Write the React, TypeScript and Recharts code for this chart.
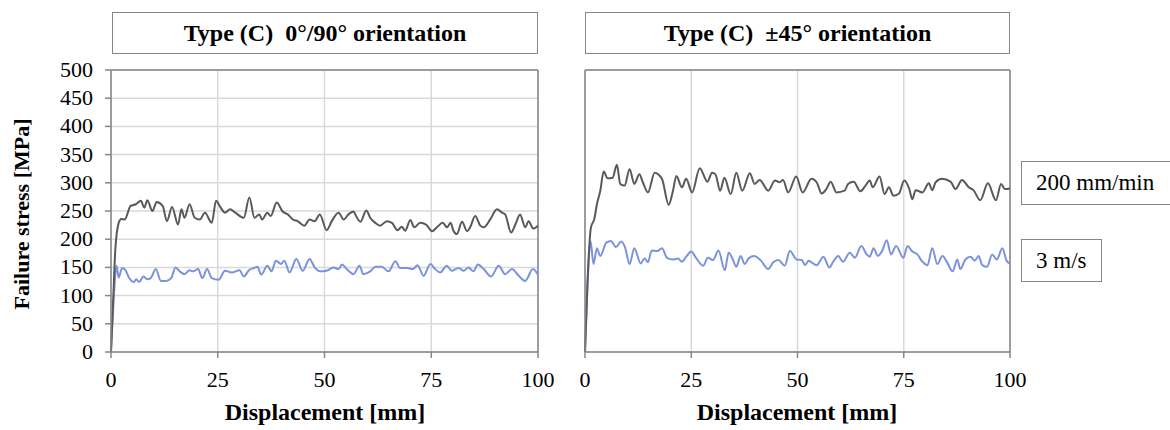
import React from "react";
import {
  LineChart,
  Line,
  XAxis,
  YAxis,
  CartesianGrid,
  ReferenceLine,
} from "recharts";

// displacement [mm] vs failure stress [MPa]
const xTicks = [0, 25, 50, 75, 100];
const yTicks = [0, 50, 100, 150, 200, 250, 300, 350, 400, 450, 500];

const titles = ["Type (C)  0°/90° orientation", "Type (C)  ±45° orientation"];
const seriesNames = ["200 mm/min", "3 m/s"];

const left200: [number, number][] = [
  [0, 0], [0.5, 90], [1, 180], [1.8, 229], [2.4, 236], [3.2, 235], [4.6, 259], [5.8, 262],
  [7, 268], [7.8, 256], [8.5, 269], [9.7, 250], [10.7, 266], [12.1, 259], [13.1, 232],
  [14.3, 257], [15.7, 226], [16.5, 253], [17.2, 238], [18.4, 262], [19.6, 238], [20.8, 235],
  [22, 247], [23.6, 229], [24.6, 268], [25.6, 257], [26.7, 247], [27.9, 253], [29.1, 247],
  [31.1, 238], [32.4, 274], [33.6, 238], [34.7, 244], [35.4, 235], [36.6, 247], [37.4, 241],
  [38.8, 265], [40.2, 249], [41.4, 244], [42.6, 235], [43.7, 232], [45.3, 224], [46.5, 235],
  [47.7, 232], [48.9, 244], [50.5, 216], [51.7, 232], [53.3, 247], [54.5, 235], [55.6, 244],
  [56.8, 249], [57.4, 241], [58.4, 231], [59.8, 251], [60.7, 238], [61.9, 229], [63, 224],
  [64.6, 232], [65.8, 229], [67.1, 216], [68.1, 222], [68.9, 215], [70.1, 234], [71, 221],
  [72.4, 229], [73.8, 226], [75.2, 214], [76.3, 221], [77.7, 229], [78.7, 221], [79.5, 229],
  [80.2, 215], [81, 209], [82.2, 231], [83.4, 214], [84.1, 221], [85.3, 241], [86.5, 224],
  [87.3, 221], [88.8, 235], [90.4, 253], [91.6, 247], [92.3, 244], [93.7, 212], [94.7, 226],
  [95.8, 244], [97, 221], [97.8, 232], [98.9, 219], [100, 224],
];

const left3: [number, number][] = [
  [0, 3], [0.6, 91], [1.3, 153], [1.8, 132], [2.6, 149], [3.4, 145], [4.2, 132], [5.4, 124],
  [5.9, 129], [6.6, 124], [7.6, 134], [8.5, 129], [9.3, 131], [10.5, 147], [11.7, 126],
  [12.9, 126], [14.1, 131], [15.1, 150], [16.1, 143], [17.2, 138], [18.4, 145], [19.2, 143],
  [20.4, 147], [21.4, 131], [22.5, 147], [23.6, 131], [25.2, 128], [26.7, 144], [28.3, 141],
  [30.1, 145], [31.1, 134], [32.3, 145], [33.5, 149], [34.3, 151], [35.2, 137], [36.6, 153],
  [37.6, 143], [38.6, 162], [39.8, 156], [40.6, 162], [41.8, 141], [43.4, 165], [44.9, 144],
  [46.5, 165], [47.7, 150], [49, 143], [50.5, 144], [52.1, 150], [53.3, 147], [54.1, 155],
  [55.2, 147], [56.8, 138], [58.2, 153], [59.1, 138], [60.7, 143], [61.9, 151], [63.4, 151],
  [65, 143], [66.6, 161], [67.7, 149], [69.3, 149], [70.7, 147], [71.8, 154], [73.2, 135],
  [74.8, 156], [75.9, 147], [77.1, 141], [78.6, 153], [79.8, 144], [81.4, 149], [82.6, 144],
  [83.7, 150], [84.9, 143], [85.9, 155], [87.3, 147], [89, 134], [90.8, 153], [92.3, 138],
  [93.9, 147], [95.5, 135], [97, 126], [98.8, 147], [100, 137],
];

const right200: [number, number][] = [
  [0, 0], [0.6, 126], [1.4, 221], [2.2, 236], [2.8, 262], [3.6, 286], [4.4, 320], [5.3, 308],
  [6.5, 309], [7.5, 332], [8.3, 298], [9.3, 295], [10.5, 324], [11.6, 298], [12.8, 315],
  [13.6, 301], [14.8, 283], [16.4, 318], [18.1, 307], [19.7, 261], [20.7, 286], [21.5, 312],
  [22.8, 292], [23.8, 307], [25.2, 283], [27, 326], [28.8, 302], [29.9, 318], [30.7, 315],
  [31.8, 286], [32.8, 309], [34.3, 280], [35.6, 318], [37, 286], [38.8, 317], [39.9, 298],
  [41.1, 305], [43.1, 286], [44.7, 304], [45.8, 301], [46.6, 305], [47.8, 283], [49.7, 311],
  [51.2, 283], [53.3, 307], [54.5, 301], [55.7, 281], [56.8, 289], [57.8, 302], [59.2, 283],
  [61.1, 286], [61.9, 298], [63.2, 302], [64.8, 285], [66, 295], [67, 304], [67.7, 292],
  [69.3, 311], [70.5, 280], [71.5, 292], [72.6, 277], [73.9, 281], [75.1, 304], [76.3, 289],
  [77, 271], [77.8, 287], [79.4, 283], [80.9, 299], [81.7, 287], [82.5, 301], [84, 307],
  [86, 302], [87.2, 289], [88.7, 305], [90.3, 292], [91.4, 287], [93, 269], [94.8, 299],
  [96.7, 269], [97.9, 298], [98.8, 289], [100, 290],
];

const right3: [number, number][] = [
  [0, 0], [0.6, 120], [1.3, 197], [2, 156], [2.8, 184], [3.6, 170], [5, 194], [6.1, 197],
  [7.3, 186], [8.5, 196], [9.4, 186], [10.5, 156], [11.6, 184], [13.1, 157], [14, 166],
  [14.8, 159], [15.7, 180], [17, 179], [18.1, 184], [19.3, 167], [20.7, 164], [21.9, 166],
  [22.8, 160], [23.8, 169], [25, 178], [26.2, 166], [27.8, 153], [28.9, 167], [30.1, 163],
  [31.4, 180], [32.9, 145], [33.8, 176], [34.8, 164], [35.6, 151], [36.6, 170], [37.6, 156],
  [38.5, 166], [39.8, 170], [41.4, 162], [43.1, 147], [44.3, 159], [45.5, 163], [47, 153],
  [48.2, 179], [49.8, 164], [51, 163], [51.8, 154], [52.6, 162], [53.3, 159], [54.5, 154],
  [56.1, 169], [57.5, 150], [58.4, 160], [59.6, 170], [60.7, 160], [62.3, 176], [63.5, 167],
  [65, 188], [66.3, 173], [67, 169], [67.9, 184], [68.9, 170], [69.9, 179], [71, 198],
  [72, 173], [73.2, 188], [74.9, 167], [75.9, 188], [76.9, 179], [78.2, 173], [79.4, 160],
  [80.6, 154], [81.7, 184], [82.9, 156], [84.1, 170], [85.2, 159], [86.5, 143], [87.6, 164],
  [88.3, 147], [89.5, 164], [90.7, 169], [91.7, 162], [92.6, 170], [93.5, 154], [94.6, 151],
  [95.8, 173], [96.9, 164], [98.2, 184], [99.2, 162], [100, 157],
];

const SERIF = "'Liberation Serif', 'Times New Roman', serif";
const AXIS = "#868686";
const GRID = "#d9d9d9";
const DARK = "#595959";
const BLUE = "#7b93dc";

const toPoints = (d: [number, number][]) => d.map(([x, y]) => ({ x, y }));

const XTick = (props: any) => {
  const { x, y, payload } = props;
  return (
    <text x={x} y={y} dy={27} textAnchor="middle" fontSize={22} fontFamily={SERIF} fill="#000">
      {payload.value}
    </text>
  );
};

const YTick = (props: any) => {
  const { x, y, payload } = props;
  return (
    <text x={x} y={y} dx={-10} dy={7} textAnchor="end" fontSize={22} fontFamily={SERIF} fill="#000">
      {payload.value}
    </text>
  );
};

type PanelProps = {
  d200: [number, number][];
  d3: [number, number][];
  showY: boolean;
  left: number;
  width: number;
  marginLeft: number;
  marginRight: number;
  yWidth: number;
};

const Panel = ({ d200, d3, showY, left, width, marginLeft, marginRight, yWidth }: PanelProps) => (
  <div style={{ position: "absolute", left, top: 0 }}>
    <LineChart
      width={width}
      height={430}
      margin={{ top: 70, right: marginRight, bottom: 0, left: marginLeft }}
    >
      <CartesianGrid stroke={GRID} strokeWidth={1.5} />
      <XAxis
        type="number"
        dataKey="x"
        domain={[0, 100]}
        ticks={xTicks}
        height={78}
        stroke={AXIS}
        strokeWidth={1.5}
        tickSize={6}
        tick={<XTick />}
      />
      <YAxis
        type="number"
        dataKey="y"
        domain={[0, 500]}
        ticks={yTicks}
        width={yWidth}
        stroke={AXIS}
        strokeWidth={1.5}
        tickSize={showY ? 6 : 0}
        tickLine={showY}
        tick={showY ? <YTick /> : false}
      />
      <ReferenceLine y={500} stroke={AXIS} strokeWidth={1.5} />
      <ReferenceLine x={100} stroke={AXIS} strokeWidth={1.5} />
      <Line
        data={toPoints(d3)}
        dataKey="y"
        type="monotone"
        stroke={BLUE}
        strokeWidth={2}
        dot={false}
        isAnimationActive={false}
      />
      <Line
        data={toPoints(d200)}
        dataKey="y"
        type="monotone"
        stroke={DARK}
        strokeWidth={2}
        dot={false}
        isAnimationActive={false}
      />
    </LineChart>
  </div>
);

const boxStyle: React.CSSProperties = {
  position: "absolute",
  boxSizing: "border-box",
  border: `1.5px solid ${AXIS}`,
  background: "#fff",
  display: "flex",
  alignItems: "center",
  whiteSpace: "pre",
  fontFamily: SERIF,
  color: "#000",
};

const App = () => (
  <div
    style={{
      position: "absolute",
      left: 0,
      top: 0,
      width: 1170,
      height: 430,
      overflow: "hidden",
      background: "#fff",
      fontFamily: SERIF,
    }}
  >
    <Panel d200={left200} d3={left3} showY left={0} width={560} marginLeft={51} marginRight={22} yWidth={60} />
    <Panel d200={right200} d3={right3} showY={false} left={560} width={470} marginLeft={24} marginRight={20} yWidth={1} />

    <div style={{ ...boxStyle, left: 112, top: 12, width: 426, height: 42, justifyContent: "center", fontWeight: "bold", fontSize: 24 }}>
      {titles[0]}
    </div>
    <div style={{ ...boxStyle, left: 585, top: 12, width: 425, height: 42, justifyContent: "center", fontWeight: "bold", fontSize: 24 }}>
      {titles[1]}
    </div>

    <div style={{ ...boxStyle, left: 1021, top: 161, width: 170, height: 44, paddingLeft: 14, fontSize: 23 }}>
      {seriesNames[0]}
    </div>
    <div style={{ ...boxStyle, left: 1021, top: 239, width: 81, height: 43, paddingLeft: 14, fontSize: 23 }}>
      {seriesNames[1]}
    </div>

    <div
      style={{
        position: "absolute",
        left: 22,
        top: 214,
        transform: "translate(-50%, -50%) rotate(-90deg)",
        whiteSpace: "nowrap",
        fontWeight: "bold",
        fontSize: 22,
      }}
    >
      Failure stress [MPa]
    </div>
    <div style={{ position: "absolute", left: 325, top: 412, transform: "translate(-50%, -50%)", whiteSpace: "nowrap", fontWeight: "bold", fontSize: 24 }}>
      Displacement [mm]
    </div>
    <div style={{ position: "absolute", left: 797, top: 412, transform: "translate(-50%, -50%)", whiteSpace: "nowrap", fontWeight: "bold", fontSize: 24 }}>
      Displacement [mm]
    </div>
  </div>
);

export default App;
